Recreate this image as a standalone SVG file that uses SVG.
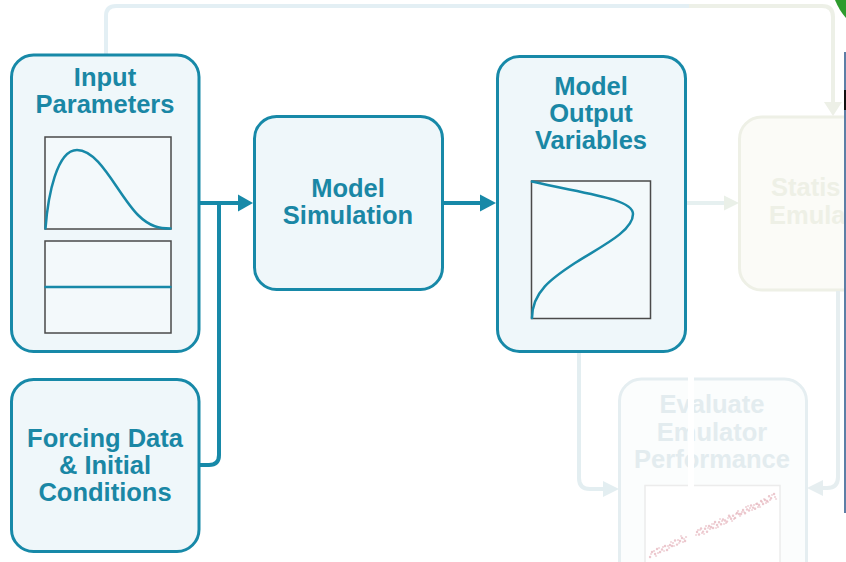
<svg xmlns="http://www.w3.org/2000/svg" width="846" height="562" viewBox="0 0 846 562">
  <defs>
    <style>
      .box { fill: #eff7fa; stroke: #1789a8; stroke-width: 3; }
      .label { font-family: "Liberation Sans", Arial, sans-serif; font-weight: bold; font-size: 25.5px; fill: #1a87a5; text-anchor: middle; }
      .chart { fill: #f3f9fb; stroke: #4a4a4a; stroke-width: 1.5; }
      .curve { fill: none; stroke: #1789a8; stroke-width: 2.5; stroke-linecap: round; }
      .link { fill: none; stroke: #1789a8; stroke-width: 4; }
      .head { fill: #1789a8; }
      .ghost-box { stroke-width: 3; }
      .ghost-label { font-family: "Liberation Sans", Arial, sans-serif; font-weight: bold; font-size: 25.5px; }
      .dots { fill: none; stroke: #e6b6be; stroke-linecap: round; }
    </style>
    <linearGradient id="loopTint" gradientUnits="userSpaceOnUse" x1="0" y1="0" x2="846" y2="0">
      <stop offset="0" stop-color="#e3eff4"/>
      <stop offset="0.815" stop-color="#e3eff4"/>
      <stop offset="0.815" stop-color="#edf0e7"/>
      <stop offset="1" stop-color="#edf0e7"/>
    </linearGradient>
  </defs>

  <rect width="846" height="562" fill="#ffffff"/>

  <!-- faded downstream stages -->
  <g id="statistical-emulator">
    <rect class="ghost-box" x="739.5" y="117" width="200" height="173" rx="22" fill="#fbfbf7" stroke="#eef0e6"/>
    <text class="ghost-label" fill="#eef0e6" x="771" y="196">Statis</text>
    <text class="ghost-label" fill="#eef0e6" x="769" y="224">Emula</text>
  </g>

  <g id="evaluate-emulator">
    <rect class="ghost-box" x="619.5" y="379" width="187" height="210" rx="22" fill="#fbfdfd" stroke="#e5eef1"/>
    <text class="ghost-label" fill="#e3ecef" text-anchor="middle" x="712" y="413">Evaluate</text>
    <text class="ghost-label" fill="#e3ecef" text-anchor="middle" x="712" y="441">Emulator</text>
    <text class="ghost-label" fill="#e3ecef" text-anchor="middle" x="712" y="468">Performance</text>
    <rect x="645" y="485.5" width="135" height="100" fill="#ffffff" stroke="#ececec" stroke-width="1.5"/>
    <!-- scatter of emulated vs simulated values -->
    <path class="dots" stroke-width="2.4" opacity="0.75"
      d="M650,557h.1M652,552h.1M655,554h.1M657,549h.1M660,552h.1M662,549.5h.1M665,546h.1M667,550h.1M670,545h.1M672,546h.1M675,540.5h.1M677,544.6h.1M680,541h.1M682,538h.1M685,541h.1M697,532h.1M699,534.5h.1M701,528.5h.1M703,531.6h.1M705,528.7h.1M707,531.8h.1M709,526h.1M711,527h.1M713,528h.1M715,522h.1M717,525h.1M719,522.3h.1M721,524.3h.1M723,519.4h.1M725,520.5h.1M727,521.6h.1M729,515.7h.1M731,518.7h.1M733,515.8h.1M735,517.9h.1M737,513h.1M739,514h.1M741,514h.1M743,510h.1M745,513.3h.1M747,509.4h.1M749,510.5h.1M751,505.5h.1M753,507.6h.1M755,508.7h.1M757,503.8h.1M759,505h.1M761,501h.1M763,504h.1M765,500h.1M767,501h.1M769,496.3h.1M771,498.3h.1M774,494h.1"/>
    <path class="dots" stroke-width="2.2" opacity="0.6"
      d="M654,551h.1M658,553h.1M663,547h.1M668,546h.1M673,543h.1M678,540h.1M683,542h.1M686,537h.1M698,530h.1M702,533h.1M706,526h.1M710,529h.1M714,524h.1M718,527h.1M722,521h.1M726,523h.1M730,517h.1M734,519h.1M738,511h.1M742,512h.1M746,507h.1M750,508h.1M754,505h.1M758,507h.1M762,502h.1M766,503h.1M770,500h.1M775,497h.1"/>
    <path class="dots" stroke-width="2.2" opacity="0.5"
      d="M651,554h.1M656,556h.1M659,548h.1M664,551h.1M669,548h.1M671,542h.1M674,546h.1M679,543h.1M681,536h.1M684,539h.1M696,535h.1M700,530h.1M704,534h.1M708,528h.1M712,524h.1M716,528h.1M720,519h.1M724,524h.1M728,518h.1M732,521h.1M736,514h.1M740,516h.1M744,512h.1M748,506h.1M752,510h.1M756,504h.1M760,507h.1M764,499h.1M768,502h.1M772,495h.1M776,499h.1"/>
  </g>

  <!-- narrow blank column crossing the faded part -->
  <rect x="688" y="0" width="6" height="562" fill="#ffffff"/>

  <!-- connectors -->
  <g id="connectors">
    <!-- faded feedback loop over the top -->
    <path d="M106,54 V16 Q106,6 116,6 H822 Q833,6 833,17 V103" fill="none" stroke="url(#loopTint)" stroke-width="4"/>
    <polygon points="824,102 842,102 833,116" fill="#edf0e7"/>
    <!-- faded output to emulator -->
    <path d="M687,203 H725" fill="none" stroke="#e6f0f0" stroke-width="4"/>
    <polygon points="724,195.5 724,210.5 739,203" fill="#eaf0e8"/>
    <!-- faded outputs to evaluation -->
    <path d="M579,353 V478 Q579,489 590,489 H604" fill="none" stroke="#e3eef1" stroke-width="4"/>
    <polygon points="603,481 603,497 619,489" fill="#e3eef1"/>
    <path d="M838,291 V477 Q838,488 827,488 H822" fill="none" stroke="#e6eef0" stroke-width="4"/>
    <polygon points="823,480 823,496 807,488" fill="#e6eef0"/>

    <!-- inputs to simulation -->
    <path class="link" d="M199,203 H239"/>
    <path class="link" d="M199,465 H209 Q219,465 219,455 V203"/>
    <polygon class="head" points="238,194.5 238,211.5 253,203"/>
    <!-- simulation to outputs -->
    <path class="link" d="M443,203 H481"/>
    <polygon class="head" points="480,194.5 480,211.5 496,203"/>
  </g>

  <g id="input-parameters">
    <rect class="box" x="11.5" y="55" width="187.5" height="296.5" rx="22"/>
    <text class="label" x="105" y="86">Input</text>
    <text class="label" x="105" y="113">Parameters</text>
    <rect class="chart" x="45" y="137" width="126" height="92"/>
    <path class="curve" d="M45.5,228.5 C48,195 57,150 77,150 C100,150 118,195 138,215 C150,227 160,228.5 170.5,228.5"/>
    <rect class="chart" x="45" y="241" width="126" height="92"/>
    <path class="curve" d="M45.5,287 H170.5"/>
  </g>

  <g id="forcing-data">
    <rect class="box" x="11.5" y="379.5" width="187.5" height="172" rx="22"/>
    <text class="label" x="105" y="447">Forcing Data</text>
    <text class="label" x="105" y="474">&amp; Initial</text>
    <text class="label" x="105" y="501">Conditions</text>
  </g>

  <g id="model-simulation">
    <rect class="box" x="254.5" y="116.5" width="188" height="173" rx="22"/>
    <text class="label" x="348" y="197">Model</text>
    <text class="label" x="348" y="224">Simulation</text>
  </g>

  <g id="model-output">
    <rect class="box" x="497.5" y="56.5" width="188" height="295" rx="22"/>
    <text class="label" x="591" y="95">Model</text>
    <text class="label" x="591" y="122">Output</text>
    <text class="label" x="591" y="149">Variables</text>
    <rect class="chart" x="531.5" y="181" width="119" height="137.5"/>
    <path class="curve" d="M532,181.5 C580,193 633,198 633,214 C633,232 598,248 575,263 C552,278 532,292 532,318"/>
  </g>

  <!-- edge marks along the right border -->
  <path d="M835,0 L846,0 L846,18 Q839,10 835,0 Z" fill="#2e9b2e"/>
  <rect x="844" y="52" width="2" height="461" fill="#5d7fa6"/>
  <rect x="844" y="90" width="2" height="20" fill="#111111"/>
</svg>
